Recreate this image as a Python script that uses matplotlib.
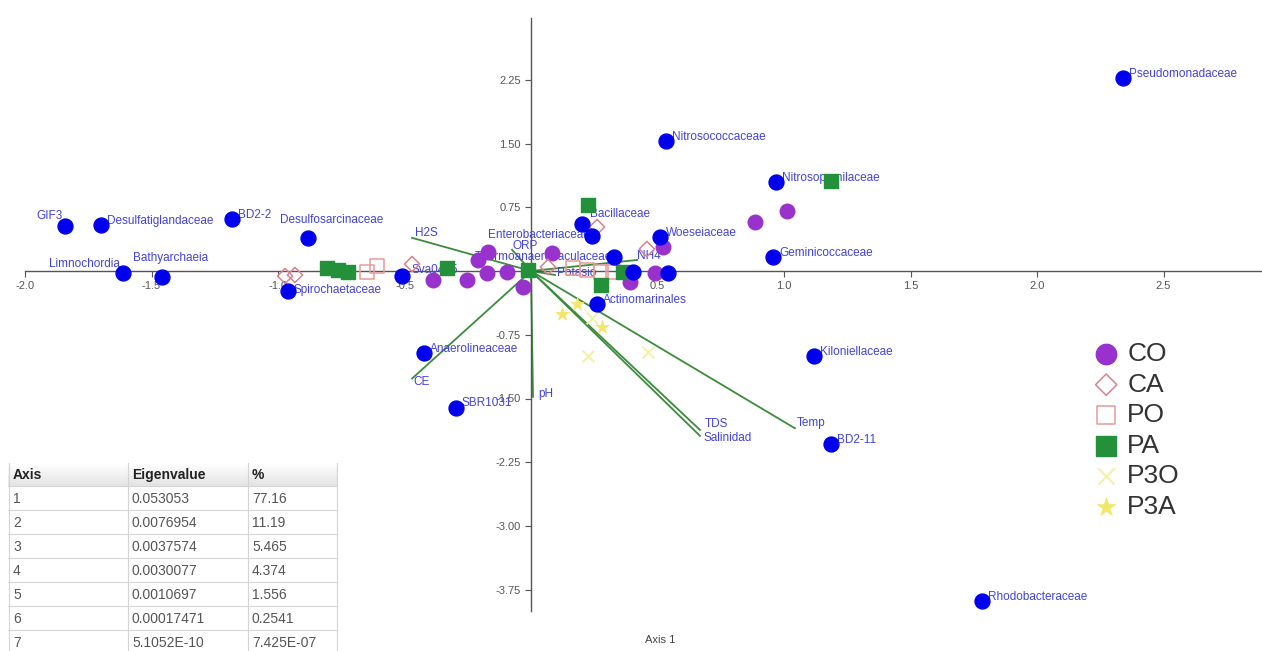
#!/usr/bin/env python3
"""CCA triplot: taxa, samples and environmental vectors, with eigenvalue table."""

import matplotlib

matplotlib.use("Agg")
import matplotlib.pyplot as plt
import numpy as np

plt.rcParams["font.family"] = ["Liberation Sans", "DejaVu Sans"]

# taxa scores (blue dots)
taxa_names = [
    "Pseudomonadaceae", "Nitrosococcaceae", "Nitrosopumilaceae", "Geminicoccaceae",
    "Woeseiaceae", "Bacillaceae", "Enterobacteriaceae", "Thermoanaerobaculaceae",
    "", "", "Actinomarinales", "Kiloniellaceae", "BD2-11", "Rhodobacteraceae",
    "SBR1031", "Anaerolineaceae", "Sva0485", "Spirochaetaceae", "Desulfosarcinaceae",
    "BD2-2", "Desulfatiglandaceae", "GIF3", "Limnochordia", "Bathyarchaeia",
]
taxa_x = [2.340, 0.534, 0.968, 0.957, 0.510, 0.202, 0.241, 0.328, 0.403, 0.542,
          0.261, 1.119, 1.186, 1.783, -0.296, -0.423, -0.510, -0.960, -0.881,
          -1.182, -1.700, -1.842, -1.613, -1.458]
taxa_y = [2.271, 1.529, 1.047, 0.165, 0.400, 0.553, 0.412, 0.165, -0.012, -0.024,
          -0.388, -1.000, -2.035, -3.882, -1.612, -0.965, -0.059, -0.235, 0.388,
          0.612, 0.541, 0.529, -0.024, -0.071]

# environmental vectors
env_names = ["H2S", "ORP", "NH4", "Potasio", "CE", "pH", "TDS", "Salinidad", "Temp"]
env_x = [-0.470, -0.075, 0.420, 0.095, -0.470, 0.008, 0.668, 0.668, 1.043]
env_y = [0.390, 0.250, 0.130, -0.047, -1.265, -1.480, -1.870, -1.940, -1.850]

# sample scores per group
co_x = [0.885, 1.012, 0.522, 0.490, 0.391, 0.083, -0.387, -0.253, -0.170, -0.209,
        -0.174, -0.095, -0.032]
co_y = [0.576, 0.706, 0.282, -0.024, -0.129, 0.212, -0.106, -0.106, 0.224, 0.129,
        -0.024, -0.012, -0.188]
ca_x = [-0.972, -0.933, -0.470, 0.261, 0.458, 0.067]
ca_y = [-0.059, -0.047, 0.082, 0.518, 0.259, 0.047]
po_x = [-0.648, -0.609, 0.166, 0.221, 0.277, 0.324]
po_y = [-0.012, 0.059, 0.035, 0.012, -0.012, -0.012]
pa_x = [-0.806, -0.763, -0.723, -0.332, -0.012, 0.225, 0.277, 0.364, 1.186]
pa_y = [0.035, 0.012, -0.012, 0.035, 0.012, 0.776, -0.165, -0.012, 1.059]
p3o_x = [0.225, 0.462, 0.241]
p3o_y = [-1.000, -0.953, -0.553]
p3a_x = [0.123, 0.182, 0.281]
p3a_y = [-0.506, -0.388, -0.659]

# eigenvalue table
table_axis = ["1", "2", "3", "4", "5", "6", "7"]
table_eigen = ["0.053053", "0.0076954", "0.0037574", "0.0030077", "0.0010697",
               "0.00017471", "5.1052E-10"]
table_pct = ["77.16", "11.19", "5.465", "4.374", "1.556", "0.2541", "7.425E-07"]

LABEL_BLUE = "#4242dd"

# label offsets in pixels (dx, dy, ha)
taxa_offsets = {
    "GIF3": (-2, 10, "right"),
    "Limnochordia": (-3, 9, "right"),
    "Bathyarchaeia": (-29, 19, "left"),
    "Desulfosarcinaceae": (-28, 18, "left"),
    "Enterobacteriaceae": (-2, 1, "right"),
    "Thermoanaerobaculaceae": (-2, 0, "right"),
    "Bacillaceae": (8, 10, "left"),
    "Sva0485": (10, 6, "left"),
    "Spirochaetaceae": (5, 1, "left"),
    "SBR1031": (5, 5, "left"),
}
env_offsets = {
    "H2S": (3, 5), "ORP": (0, 4), "NH4": (0, 4), "Potasio": (2, 2),
    "CE": (1, -3), "pH": (5, 3), "TDS": (5, 6), "Salinidad": (3, -2), "Temp": (2, 5),
}


def main() -> int:
    W, H = 1262, 651
    x0, y0, sx, sy = 531, 271, 253.0, 85.0

    fig = plt.figure(figsize=(W / 100, H / 100), dpi=100)
    ax = fig.add_axes([0, 0, 1, 1])
    ax.set_xlim(-x0 / sx, (W - x0) / sx)
    ax.set_ylim((y0 - H) / sy, y0 / sy)

    for side in ("top", "right"):
        ax.spines[side].set_visible(False)
    ax.spines["left"].set_position(("data", 0))
    ax.spines["bottom"].set_position(("data", 0))
    ax.spines["left"].set_bounds(-4.0, 2.98)
    ax.spines["bottom"].set_bounds(-2.0, 2.9)
    for side in ("left", "bottom"):
        ax.spines[side].set_color("#555555")
        ax.spines[side].set_linewidth(1.0)

    xt = [-2.0, -1.5, -1.0, -0.5, 0.5, 1.0, 1.5, 2.0, 2.5]
    yt = [2.25, 1.5, 0.75, -0.75, -1.5, -2.25, -3.0, -3.75]
    ax.set_xticks(xt, [f"{v:.1f}" for v in xt])
    ax.set_yticks(yt, [f"{v:.2f}" for v in yt])
    ax.tick_params(direction="out", length=4, width=0.8, color="#555555",
                   labelcolor="#555555", labelsize=8)

    # environmental vectors
    for name, ex, ey in zip(env_names, env_x, env_y):
        ax.plot([0, ex], [0, ey], color="#3c8c3c", lw=1.3, zorder=1)
        dx, dy = env_offsets.get(name, (3, 3))
        ax.annotate(name, (ex, ey), xytext=(dx, dy), textcoords="offset pixels",
                    ha="left", va="center", fontsize=8.5, color=LABEL_BLUE, zorder=2)

    # taxa labels under the markers
    for name, tx, ty in zip(taxa_names, taxa_x, taxa_y):
        if not name:
            continue
        dx, dy, ha = taxa_offsets.get(name, (6, 4, "left"))
        ax.annotate(name, (tx, ty), xytext=(dx, dy), textcoords="offset pixels",
                    ha=ha, va="center", fontsize=8.5, color=LABEL_BLUE, zorder=2)

    groups = [
        ("CO", co_x, co_y, dict(marker="o", c="#9932cc", s=110)),
        ("CA", ca_x, ca_y, dict(marker="D", facecolors="none", edgecolors="#d9828f",
                                s=60, linewidths=1.1)),
        ("PO", po_x, po_y, dict(marker="s", facecolors="none", edgecolors="#e89a9a",
                                s=90, linewidths=1.1)),
        ("PA", pa_x, pa_y, dict(marker="s", c="#23913a", s=100)),
        ("P3O", p3o_x, p3o_y, dict(marker="x", c="#f7f29a", s=70, linewidths=1.5)),
        ("P3A", p3a_x, p3a_y, dict(marker="*", c="#f2e76a", s=100, linewidths=0.5)),
    ]
    handles = []
    for label, gx, gy, kw in groups:
        handles.append(ax.scatter(gx, gy, label=label, zorder=3, **kw))

    ax.scatter(taxa_x, taxa_y, marker="o", c="#0000ee", s=115, zorder=4)

    ax.legend(handles=handles, loc="upper left",
              bbox_to_anchor=(1093 / W, 1 - 342 / H), bbox_transform=fig.transFigure,
              frameon=False, fontsize=19, markerscale=1.4, handlelength=1.0,
              handletextpad=0.3, labelspacing=0.25, borderpad=0, borderaxespad=0,
              labelcolor="#333333")

    fig.text(660 / W, 1 - 640 / H, "Axis 1", ha="center", va="center",
             fontsize=8, color="#444444")

    # eigenvalue table
    tw, th = 330, 188
    tax = fig.add_axes([8 / W, 0, tw / W, th / H])
    tax.set_xlim(0, tw)
    tax.set_ylim(th, 0)
    tax.axis("off")
    grad = np.linspace(1.0, 0.89, 32).reshape(-1, 1)
    tax.imshow(grad, cmap="gray", vmin=0, vmax=1, aspect="auto",
               extent=(0, tw, 23, 0), zorder=0)
    line_c = "#d4d4d4"
    for k in range(8):
        yy = 23 + 24 * k
        tax.plot([0, tw - 1], [yy, yy], color=line_c, lw=0.8)
    for xx in (0.5, 120, 240, tw - 1):
        tax.plot([xx, xx], [0, th], color=line_c, lw=0.8)
    cols = (5, 124, 244)
    for cx, txt in zip(cols, ("Axis", "Eigenvalue", "%")):
        tax.text(cx, 12, txt, ha="left", va="center", fontsize=10,
                 fontweight="bold", color="#222222")
    for i, row in enumerate(zip(table_axis, table_eigen, table_pct)):
        for cx, txt in zip(cols, row):
            tax.text(cx, 36 + 24 * i, txt, ha="left", va="center", fontsize=10,
                     color="#555555")

    fig.savefig("out.png", dpi=100)
    plt.close(fig)
    return 0


if __name__ == "__main__":
    raise SystemExit(main())
